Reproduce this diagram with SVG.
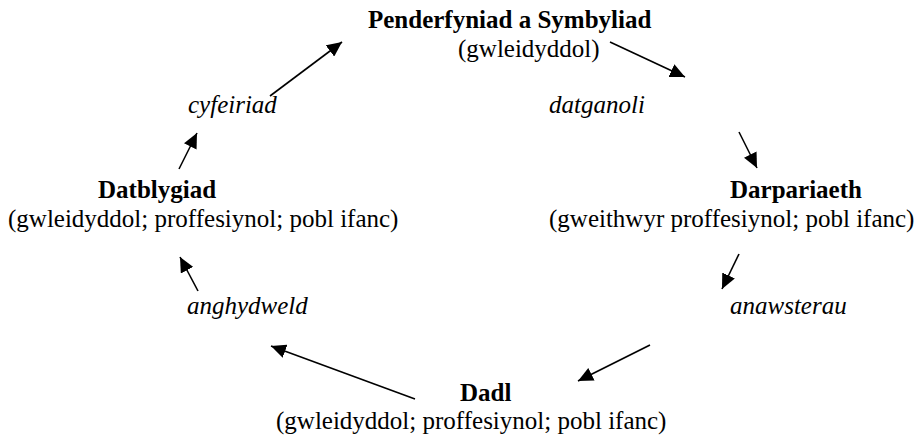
<svg xmlns="http://www.w3.org/2000/svg" width="918" height="437" viewBox="0 0 918 437">
<style>
text{font-family:"Liberation Serif","Times New Roman",serif;font-size:25px;fill:#000}
.b{font-weight:bold}
.i{font-style:italic}
.c line{stroke:#000;stroke-width:1.6;marker-end:url(#ah)}
</style>
<defs>
<marker id="ah" markerUnits="userSpaceOnUse" markerWidth="16" markerHeight="14" refX="15" refY="7" orient="auto" viewBox="0 0 16 14">
<path d="M0,0 L15,7 L0,14 Z" fill="#000"/>
</marker>
</defs>
<rect width="918" height="437" fill="#fff"/>
<g id="penderfyniad">
<text class="b" x="368" y="28">Penderfyniad a Symbyliad</text>
<text x="458" y="57">(gwleidyddol)</text>
</g>
<g id="darpariaeth">
<text class="b" x="730" y="198">Darpariaeth</text>
<text x="549" y="227">(gweithwyr proffesiynol; pobl ifanc)</text>
</g>
<g id="dadl">
<text class="b" x="460" y="401">Dadl</text>
<text x="276" y="429">(gwleidyddol; proffesiynol; pobl ifanc)</text>
</g>
<g id="datblygiad">
<text class="b" x="98" y="198">Datblygiad</text>
<text x="8" y="227">(gwleidyddol; proffesiynol; pobl ifanc)</text>
</g>
<g class="c" id="connectors">
<line x1="270" y1="96" x2="342" y2="42"/>
<line x1="610" y1="42" x2="685" y2="77"/>
<line x1="739" y1="132" x2="757" y2="168"/>
<line x1="739" y1="254" x2="722" y2="289"/>
<line x1="650" y1="345" x2="578" y2="381"/>
<line x1="415" y1="399" x2="271" y2="346"/>
<line x1="198" y1="291" x2="180" y2="257"/>
<line x1="179" y1="169" x2="197" y2="133"/>
<text class="i" x="549" y="113">datganoli</text>
<text class="i" x="730" y="314">anawsterau</text>
<text class="i" x="187" y="314">anghydweld</text>
<text class="i" x="188" y="113">cyfeiriad</text>
</g>
</svg>
